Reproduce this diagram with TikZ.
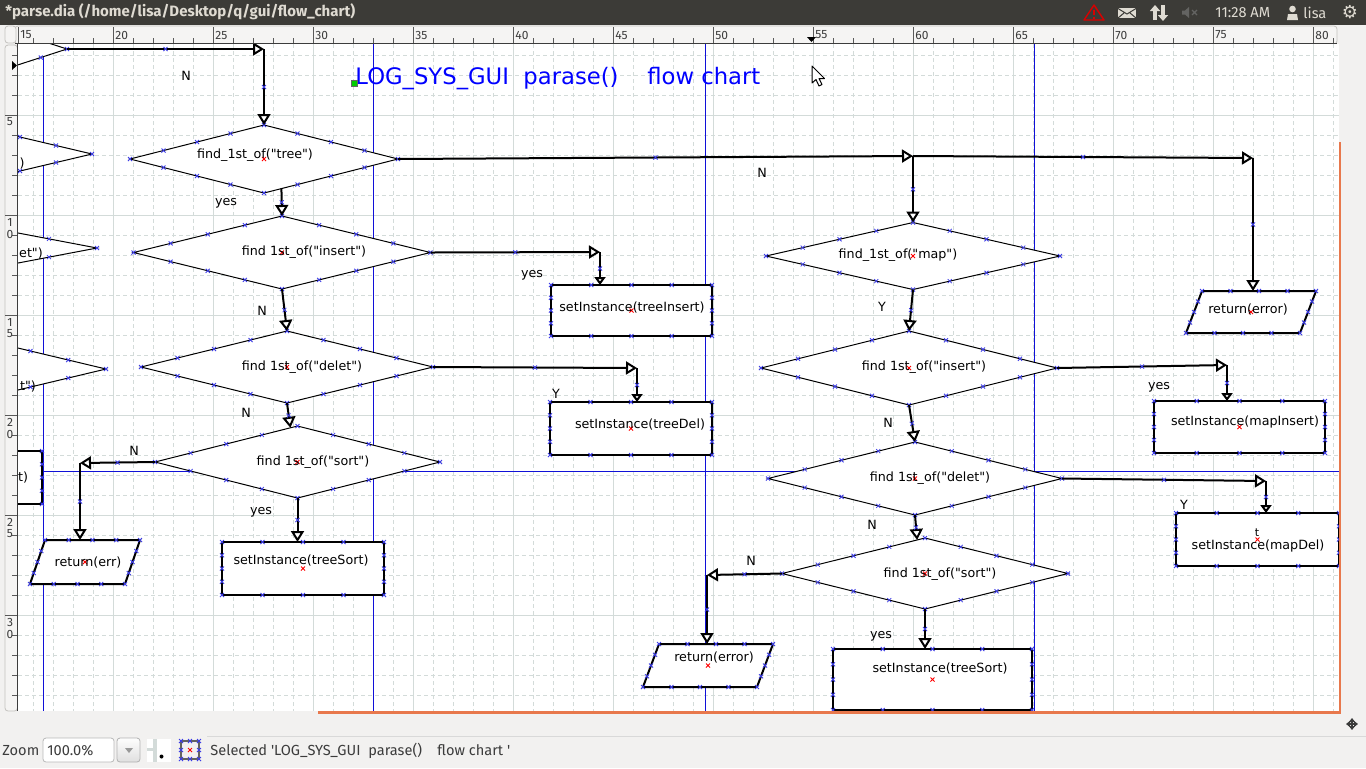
\documentclass[tikz,border=0pt]{standalone}
\usepackage{fontspec}
\setmainfont{DejaVu Sans}
\newfontfamily\dfont{DejaVu Sans}
\newfontfamily\uifont{Fira Sans}
\usetikzlibrary{calc,arrows.meta,decorations.markings,shapes.geometric,positioning}

\definecolor{panelbg}{HTML}{F2F1F0}
\definecolor{titlebar}{HTML}{3C3B37}
\definecolor{titletext}{HTML}{DFDBD2}
\definecolor{rulerbg}{HTML}{F5F4F3}
\definecolor{rulerline}{HTML}{C4C2BF}
\definecolor{gridline}{HTML}{D3DBD9}
\definecolor{guideblue}{HTML}{1010D8}
\definecolor{cpblue}{HTML}{3C3CE6}
\definecolor{pageedge}{HTML}{E8784C}
\definecolor{uitext}{HTML}{3C3C3C}
\definecolor{titleblue}{HTML}{0000FF}

\tikzset{
  dtext/.style={font=\dfont\fontsize{6.35pt}{7.6pt}\selectfont, inner sep=0, anchor=base, yshift=-2pt},
  ui/.style={font=\uifont\fontsize{7.3pt}{8.6pt}\selectfont, text=uitext, inner sep=0, anchor=west},
  wintext/.style={text=titletext, inner sep=0, anchor=west},
  rlab/.style={font=\uifont\fontsize{6pt}{7pt}\selectfont, text=uitext, inner sep=0},
  rtick/.style={uitext!85, line width=0.5pt},
  sz/.style 2 args={minimum width=#1*0.5pt, minimum height=#2*0.5pt},
  dia/.style={diamond, draw, fill=white, line width=0.5pt, inner sep=0, outer sep=0},
  box/.style={rectangle, draw, fill=white, line width=1pt, inner sep=0, outer sep=0},
  frame/.style={rectangle, inner sep=0, outer sep=0},
  slant/.style={draw, fill=white, line width=1pt, line join=miter},
  gridminor/.style={gridline, line width=0.5pt, dash pattern=on 2pt off 1.5pt},
  gridmajor/.style={gridline, line width=0.5pt},
  guide/.style={guideblue, line width=0.55pt},
  cpt/.style={draw=cpblue, line width=0.4pt, -},
  cx/.pic={\draw[cpt] (-2,-2) -- (2,2) (-2,2) -- (2,-2);},
  rx/.pic={\draw[red, line width=0.4pt, -] (-2,-2) -- (2,2) (-2,2) -- (2,-2);},
  conn/.style={line width=1pt, -{Triangle[length=5.5pt,width=6.5pt,fill=white]},
    postaction={decorate}, decoration={markings,
      mark=at position 0.5 with {\draw[cpt] (-2,-2) -- (2,2) (-2,2) -- (2,-2);}}},
  stub/.style={conn, -{Triangle[length=4pt,width=5.5pt,fill=white]}}
}

% connection points of a shape: quarters of each side, text handle in the middle
\newcommand{\cpts}[5]{%
  \foreach \ca/\cb in {#2/#3,#3/#4,#4/#5,#5/#2}{%
    \foreach \cf in {0,0.25,0.5,0.75}{%
      \path ($(#1.\ca)!\cf!(#1.\cb)$) pic{cx};}}%
  \path (#1.center) pic{rx};}
\newcommand{\diapts}[1]{\cpts{#1}{north}{east}{south}{west}}
\newcommand{\boxpts}[1]{\cpts{#1}{north west}{north east}{south east}{south west}}
% parallelogram drawn in the frame of a node, slant in px
\newcommand{\slantbox}[2]{%
  \coordinate (#1-tl) at ([xshift=#2*0.5pt]#1.north west);
  \coordinate (#1-tr) at (#1.north east);
  \coordinate (#1-br) at ([xshift=-#2*0.5pt]#1.south east);
  \coordinate (#1-bl) at (#1.south west);
  \draw[slant] (#1-tl) -- (#1-tr) -- (#1-br) -- (#1-bl) -- cycle;
  \foreach \ca/\cb in {tl/tr,tr/br,br/bl,bl/tl}{%
    \foreach \cf in {0,0.25,0.5,0.75}{%
      \path ($(#1-\ca)!\cf!(#1-\cb)$) pic{cx};}}%
  \path (#1.center) pic{rx};}

\begin{document}
\begin{tikzpicture}[x=0.5pt,y=-0.5pt]
  \useasboundingbox (0,0) rectangle (1366,768);
  \fill[panelbg] (0,0) rectangle (1366,768);

  % window title bar
  \fill[titlebar] (0,0) rectangle (1366,24.5);
  \node[wintext, font=\uifont\bfseries\fontsize{7.5pt}{8.5pt}\selectfont] (winTitle) at (5,12) {*parse.dia (/home/lisa/Desktop/q/gui/flow\_chart)};
  \draw[red!85!black, line width=0.7pt, line join=round] (1084,20) -- (1094,5) -- (1104,20) -- cycle;
  \draw[red!85!black, line width=0.9pt] (1094,9.5) -- (1094,15) (1094,16.5) -- (1094,18.5);
  \fill[titletext] (1118,8) rectangle (1136,18);
  \draw[titlebar, line width=0.5pt] (1118,8.5) -- (1127,14) -- (1136,8.5) (1118,18) -- (1124,13) (1136,18) -- (1130,13);
  \draw[titletext, line width=1.6pt, -{Triangle[length=3pt,width=5pt]}] (1155,20) -- (1155,5);
  \draw[titletext, line width=1.6pt, -{Triangle[length=3pt,width=5pt]}] (1163,5) -- (1163,21);
  \fill[gray!60!titlebar] (1182,10.5) -- (1185,10.5) -- (1189,7) -- (1189,18) -- (1185,14.5) -- (1182,14.5) -- cycle;
  \draw[gray!60!titlebar, line width=0.6pt] (1192,10) -- (1197,15) (1192,15) -- (1197,10);
  \node[wintext, font=\uifont\fontsize{7.3pt}{8.5pt}\selectfont] (clock) at (1215,12.5) {11:28 AM};
  \fill[titletext] (1292.5,9) circle (3.3);
  \fill[titletext] (1287,20) -- (1288,14) -- (1297,14) -- (1298,20) -- cycle;
  \node[wintext, font=\uifont\fontsize{7.3pt}{8.5pt}\selectfont] (userName) at (1303,12.5) {lisa};
  \node[text=titletext, font=\fontsize{9pt}{10pt}\selectfont, inner sep=0] (gearIcon) at (1350,12) {⚙};

  % rulers
  \draw[draw=rulerline, fill=rulerbg, rounded corners=1.5pt] (15,26) rectangle (1337,44);
  \foreach \tx in {33,53,...,1333} \draw[rtick] (\tx,43) -- (\tx,38);
  \foreach \tx/\lab in {18/15,113/20,213/25,313/30,413/35,513/40,613/45,713/50,813/55,913/60,1013/65,1113/70,1213/75,1313/80}{
    \draw[rtick] (\tx,43) -- (\tx,27);
    \node[rlab, anchor=west] (rt\lab) at (\tx+2,35) {\lab};
  }
  \draw[uitext, line width=0.6pt] (15,43.5) -- (1337,43.5);
  \draw[draw=rulerline, fill=rulerbg, rounded corners=1.5pt] (5,26) rectangle (16,43);
  \draw[draw=rulerline, fill=rulerbg, rounded corners=1.5pt] (5,45) rectangle (17.5,711);
  \foreach \ty in {55,75,...,695} \draw[rtick] (12,\ty) -- (17,\ty);
  \foreach \ty/\da/\db in {115/5/{},215/1/0,315/1/5,415/2/0,515/2/5,615/3/0}{
    \draw[rtick] (5,\ty) -- (17,\ty);
    \node[rlab] (rl\ty a) at (10,\ty+7) {\da};
    \node[rlab] (rl\ty b) at (10,\ty+19) {\db};
  }
  \draw[uitext, line width=0.6pt] (17.5,44) -- (17.5,711);
  \fill (12,61) -- (17,65.5) -- (12,70) -- cycle;
  \fill (807,37) -- (816,37) -- (811.5,42) -- cycle;

  % canvas
  \begin{scope}
    \clip (18,44) rectangle (1339,711);
    \fill[white] (18,44) rectangle (1339,711);
    \foreach \gx in {33.5,53.5,...,1333.5} \draw[gridminor] (\gx,44) -- (\gx,711);
    \foreach \gy in {55.5,75.5,...,695.5} \draw[gridminor] (18,\gy) -- (1339,\gy);
    \foreach \gx in {113.5,213.5,...,1313.5} \draw[gridmajor] (\gx,44) -- (\gx,711);
    \foreach \gy in {115.5,215.5,...,615.5} \draw[gridmajor] (18,\gy) -- (1339,\gy);
    \foreach \gx in {43.5,373.5,705.5,1034.5} \draw[guide] (\gx,44) -- (\gx,711);
    \draw[guide] (18,471.5) -- (1339,471.5);

    % shapes cut off at the left edge
    \node[dia, sz={210}{68}] (topD) at (-38,49) {};
    \node[dia, sz={288}{68}] (leftD1) at (-52,154) {};
    \node[dia, sz={384}{73}] (leftD2) at (-95,248) {};
    \node[dia, sz={302}{72}] (leftD3) at (-45,369) {};
    \node[box, sz={160}{53}] (leftBox) at (-38,477.5) {};

    % tree branch
    \node[dia, sz={268}{68}] (treeD) at (264,159) {};
    \node[dia, sz={297}{73}] (insD) at (282,252.5) {};
    \node[dia, sz={292}{72}] (delD) at (287,367) {};
    \node[dia, sz={285}{72}] (sortD) at (297.5,462) {};
    \node[box, sz={161}{51}] (insBox) at (631.5,310.5) {};
    \node[box, sz={162}{53}] (delBox) at (631,428.5) {};
    \node[box, sz={162}{53}] (sortBox) at (303,568.5) {};
    \node[frame, sz={110}{44}] (errPara) at (85,562) {};

    % map branch
    \node[dia, sz={294}{67}] (mapD) at (913,256) {};
    \node[dia, sz={296}{74}] (minsD) at (909,368) {};
    \node[dia, sz={294}{73}] (mdelD) at (915,478.5) {};
    \node[dia, sz={286}{71}] (msortD) at (925,573.5) {};
    \node[box, sz={171}{52}] (minsBox) at (1239.5,427) {};
    \node[box, sz={163}{53}] (mdelBox) at (1257.5,539.5) {};
    \node[box, sz={199}{61}] (msortBox) at (932.5,679.5) {};
    \node[frame, sz={130}{42}] (errParaR) at (1251,312) {};
    \node[frame, sz={130}{43}] (errParaB) at (708,665.5) {};

    \foreach \n in {topD,leftD1,leftD2,leftD3,treeD,insD,delD,sortD,mapD,minsD,mdelD,msortD} \diapts{\n};
    \foreach \n in {leftBox,insBox,delBox,sortBox,minsBox,mdelBox,msortBox} \boxpts{\n};
    \slantbox{errPara}{15}
    \slantbox{errParaR}{16}
    \slantbox{errParaB}{16}

    % texts
    \node[dtext] (leftT1) at (22,163) {)};
    \node[dtext] (leftT2) at (31,253) {et")};
    \node[dtext] (leftT3) at (28,386) {t")};
    \node[dtext] (leftT4) at (23,477) {t)};
    \node[dtext] (treeT) at (255,154) {find\_1st\_of("tree")};
    \node[dtext] (insT) at (304,251) {find 1st\_of("insert")};
    \node[dtext] (delT) at (302,366) {find 1st\_of("delet")};
    \node[dtext] (sortT) at (313,461) {find 1st\_of("sort")};
    \node[dtext] (insBoxT) at (632,307) {setInstance(treeInsert)};
    \node[dtext] (delBoxT) at (640,424) {setInstance(treeDel)};
    \node[dtext] (sortBoxT) at (301,560) {setInstance(treeSort)};
    \node[dtext] (errT) at (88,562) {return(err)};
    \node[dtext] (mapT) at (898,254) {find\_1st\_of("map")};
    \node[dtext] (minsT) at (924,366) {find 1st\_of("insert")};
    \node[dtext] (mdelT) at (930,477) {find 1st\_of("delet")};
    \node[dtext] (msortT) at (940,573) {find 1st\_of("sort")};
    \node[dtext] (minsBoxT) at (1245,421) {setInstance(mapInsert)};
    \node[dtext] (mdelBoxT) at (1258,545) {setInstance(mapDel)};
    \node[dtext, font=\dfont\fontsize{5.5pt}{6pt}\selectfont] (mdelBoxX) at (1257,532.5) {t};
    \node[dtext] (msortBoxT) at (940,668) {setInstance(treeSort)};
    \node[dtext] (errRT) at (1248,309) {return(error)};
    \node[dtext] (errBT) at (714,657) {return(error)};

    % connectors
    \coordinate (jTop) at (264,49);
    \draw[conn] (topD.east) -- (jTop);
    \draw[conn] (jTop) -- (treeD.north);
    \draw[conn] ($(treeD.south)!0.13!(treeD.east)$) -- (insD.north);
    \coordinate (jIns) at (600,252);
    \draw[conn] (insD.east) -- (jIns);
    \draw[stub] (jIns) -- (jIns |- insBox.north);
    \draw[conn] (insD.south) -- (delD.north);
    \coordinate (jDel) at (637,368);
    \draw[conn] (delD.east) -- (jDel);
    \draw[stub] (jDel) -- (jDel |- delBox.north);
    \draw[conn] (delD.south) -- ($(sortD.north)!0.05!(sortD.west)$);
    \coordinate (jSort) at (80,463);
    \draw[conn] (sortD.west) -- (jSort);
    \draw[conn] (jSort) -- (jSort |- errPara.north);
    \draw[conn] (sortD.south) -- (sortD.south |- sortBox.north);
    \coordinate (jMap) at (913,156);
    \coordinate (jErr) at (1253,158);
    \draw[conn] (treeD.east) -- (jMap);
    \draw[conn] (jMap) -- (jErr);
    \draw[conn] (jMap) -- (mapD.north);
    \draw[conn] (jErr) -- (jErr |- errParaR.north);
    \draw[conn] (mapD.south) -- (minsD.north);
    \coordinate (jMins) at (1227,365);
    \draw[conn] (minsD.east) -- (jMins);
    \draw[stub] (jMins) -- (jMins |- minsBox.north);
    \draw[conn] (minsD.south) -- (mdelD.north);
    \coordinate (jMdel) at (1266,481);
    \draw[conn] (mdelD.east) -- (jMdel);
    \draw[stub] (jMdel) -- (jMdel |- mdelBox.north);
    \draw[conn] (mdelD.south) -- ($(msortD.north)!0.055!(msortD.west)$);
    \coordinate (jMsort) at (707,575);
    \draw[conn] (msortD.west) -- (jMsort);
    \draw[conn] (jMsort) -- (jMsort |- errParaB.north);
    \draw[conn] (msortD.south) -- (msortD.south |- msortBox.north);

    % branch labels
    \node[dtext] (lN1) at (186,76) {N};
    \node[dtext] (lYes1) at (226,201) {yes};
    \node[dtext] (lYes2) at (532,273) {yes};
    \node[dtext] (lN2) at (262,311) {N};
    \node[dtext] (lY1) at (556,394) {Y};
    \node[dtext] (lN3) at (246,413) {N};
    \node[dtext] (lN4) at (134,451) {N};
    \node[dtext] (lYes3) at (261,510) {yes};
    \node[dtext] (lN5) at (762,173) {N};
    \node[dtext] (lY2) at (882,307) {Y};
    \node[dtext] (lYes4) at (1159,385) {yes};
    \node[dtext] (lN6) at (888,423) {N};
    \node[dtext] (lY3) at (1184,505) {Y};
    \node[dtext] (lN7) at (872,525) {N};
    \node[dtext] (lN8) at (751,561) {N};
    \node[dtext] (lYes5) at (881,634) {yes};

    % chart title, selected
    \node[anchor=base west, text=titleblue, font=\dfont\fontsize{11.35pt}{13pt}\selectfont, inner sep=0] (chartTitle) at (355,84.5) {LOG\_SYS\_GUI\ \ parase()\ \ \ \ flow chart};
    \draw[fill=green!80!black, draw=black!60, line width=0.4pt] (351.5,80) rectangle (357.5,86);
  \end{scope}

  % page edge
  \draw[pageedge, line width=1.4pt] (1340,142) -- (1340,712.5) -- (318,712.5);

  % mouse pointer
  \draw[fill=white, line width=0.5pt, line join=round] (812,66) -- (812,83) -- (816,79.5) -- (819,86) -- (822,84.5) -- (819,78.5) -- (824.5,78.5) -- cycle;

  % move handle
  \draw[uitext, line width=0.7pt, {Triangle[length=2pt,width=3pt]}-{Triangle[length=2pt,width=3pt]}] (1346,724) -- (1358,724);
  \draw[uitext, line width=0.7pt, {Triangle[length=2pt,width=3pt]}-{Triangle[length=2pt,width=3pt]}] (1352,718) -- (1352,730);

  % status bar
  \draw[gray!30] (207,736) -- (1366,736);
  \node[ui] (zoomLbl) at (2,751) {Zoom};
  \node[draw=gray!55, fill=white, rounded corners=1.5pt, sz={71}{24}, inner sep=0] (zoomBox) at (78.5,750) {};
  \node[ui] (zoomVal) at (47,751) {100.0\%};
  \node[draw=gray!60, top color=white!90!panelbg, bottom color=gray!25, rounded corners=1.5pt, sz={23}{24}, inner sep=0] (zoomBtn) at (128.5,750) {};
  \fill[gray!80] (125,748) -- (133,748) -- (129,753) -- cycle;
  \fill[white] (147,739) rectangle (171,762);
  \fill[gridline] (153,739) rectangle (157,762);
  \fill[gridline] (147,748) rectangle (157,751);
  \fill (161.5,756.5) circle (2);
  \draw[uitext!80, line width=0.8pt] (181,741) rectangle (199,759);
  \foreach \sx in {181,190,199} \foreach \sy in {741,759} \path (\sx,\sy) pic{cx};
  \foreach \sy in {750} \foreach \sx in {181,199} \path (\sx,\sy) pic{cx};
  \path (190,750) pic{rx};
  \node[ui] (statusMsg) at (210,751) {Selected \textquotesingle LOG\_SYS\_GUI\ \ parase()\ \ \ \ flow chart \textquotesingle};
\end{tikzpicture}
\end{document}
